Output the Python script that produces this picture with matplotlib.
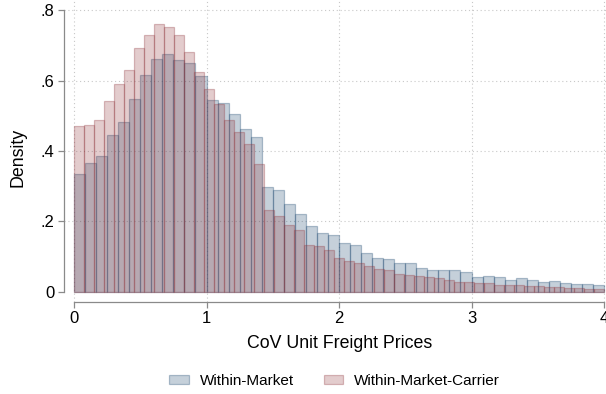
import numpy as np
import matplotlib
matplotlib.use("Agg")
import matplotlib.pyplot as plt
from matplotlib.patches import Patch

plt.rcParams['font.family'] = ['Liberation Sans', 'DejaVu Sans']

# Histogram densities (bins over [0, 4])
market_density = [
    0.335, 0.366, 0.386, 0.446, 0.483, 0.547, 0.615, 0.661, 0.675, 0.660,
    0.649, 0.612, 0.545, 0.537, 0.504, 0.462, 0.439, 0.298, 0.288, 0.248,
    0.220, 0.186, 0.166, 0.162, 0.138, 0.134, 0.111, 0.097, 0.092, 0.083,
    0.082, 0.066, 0.062, 0.063, 0.061, 0.055, 0.041, 0.045, 0.043, 0.034,
    0.038, 0.032, 0.028, 0.030, 0.024, 0.021, 0.023, 0.020,
]
carrier_density = [
    0.470, 0.473, 0.487, 0.543, 0.590, 0.629, 0.692, 0.730, 0.760, 0.752,
    0.731, 0.681, 0.624, 0.575, 0.534, 0.487, 0.454, 0.419, 0.362, 0.232,
    0.215, 0.189, 0.175, 0.132, 0.129, 0.120, 0.096, 0.086, 0.081, 0.072,
    0.064, 0.061, 0.049, 0.047, 0.044, 0.041, 0.038, 0.032, 0.028, 0.027,
    0.025, 0.025, 0.020, 0.019, 0.018, 0.017, 0.016, 0.014, 0.012, 0.011,
    0.011, 0.009, 0.008,
]
x_range = (0.0, 4.0)
x_ticks = [0, 1, 2, 3, 4]
y_ticks = [0, 0.2, 0.4, 0.6, 0.8]
y_tick_labels = ["0", ".2", ".4", ".6", ".8"]
series_labels = ["Within-Market", "Within-Market-Carrier"]

navy = (26 / 255, 71 / 255, 111 / 255)
maroon = (144 / 255, 53 / 255, 59 / 255)

W, H = 606, 394
fig = plt.figure(figsize=(W / 100, H / 100), dpi=100)
ax_left, ax_right, ax_top, ax_bottom = 64, 606, 0, 301.7
ax = fig.add_axes([ax_left / W, 1 - ax_bottom / H,
                   (ax_right - ax_left) / W, (ax_bottom - ax_top) / H])


def draw_hist(values, color):
    n = len(values)
    edges = np.linspace(x_range[0], x_range[1], n + 1)
    ax.bar(edges[:-1], values, width=np.diff(edges), align="edge",
           facecolor=(*color, 0.25), edgecolor=(*color, 0.32),
           linewidth=0.9, zorder=2)


draw_hist(market_density, navy)
draw_hist(carrier_density, maroon)

ax.set_xlim(-0.0755, 4.015)
ax.set_ylim(-0.0284, 0.8294)

ax.set_xticks(x_ticks)
ax.set_xticklabels([str(t) for t in x_ticks])
ax.set_yticks(y_ticks)
ax.set_yticklabels(y_tick_labels)

grid_kw = dict(color="#c8c8c8", linewidth=0.8, linestyle=(0, (1, 2.5)), zorder=0)
for t in x_ticks:
    ax.axvline(t, **grid_kw)
for t in y_ticks[1:]:
    ax.axhline(t, **grid_kw)

for side in ("top", "right"):
    ax.spines[side].set_visible(False)
axis_gray = "#8a8a8a"
ax.spines["left"].set_bounds(0, 0.8)
ax.spines["bottom"].set_bounds(0, 4)
for side in ("left", "bottom"):
    ax.spines[side].set_color(axis_gray)
    ax.spines[side].set_linewidth(0.9)
ax.tick_params(axis="both", colors=axis_gray, labelcolor="black",
               length=4, width=0.9, labelsize=12, pad=3)

ax.set_xlabel("CoV Unit Freight Prices", fontsize=12.8)
ax.set_ylabel("Density", fontsize=12.8)
ax.xaxis.set_label_coords((339.5 - ax_left) / (ax_right - ax_left),
                          -(343 - ax_bottom) / (ax_bottom - ax_top), transform=ax.transAxes)
ax.yaxis.set_label_coords(-(64 - 18) / (ax_right - ax_left),
                          1 - (157 - ax_top) / (ax_bottom - ax_top), transform=ax.transAxes)
ax.xaxis.label.set_va("center")
ax.yaxis.label.set_va("center")

handles = [
    Patch(facecolor=(*navy, 0.25), edgecolor=(*navy, 0.32), linewidth=0.9),
    Patch(facecolor=(*maroon, 0.25), edgecolor=(*maroon, 0.32), linewidth=0.9),
]
fig.legend(handles, series_labels, loc="center", ncol=2, frameon=False,
           bbox_to_anchor=(334.5 / W, 1 - 381 / H), fontsize=11,
           handlelength=1.3, handleheight=0.55, columnspacing=1.95, handletextpad=0.72)

fig.savefig("out.png", dpi=100)
